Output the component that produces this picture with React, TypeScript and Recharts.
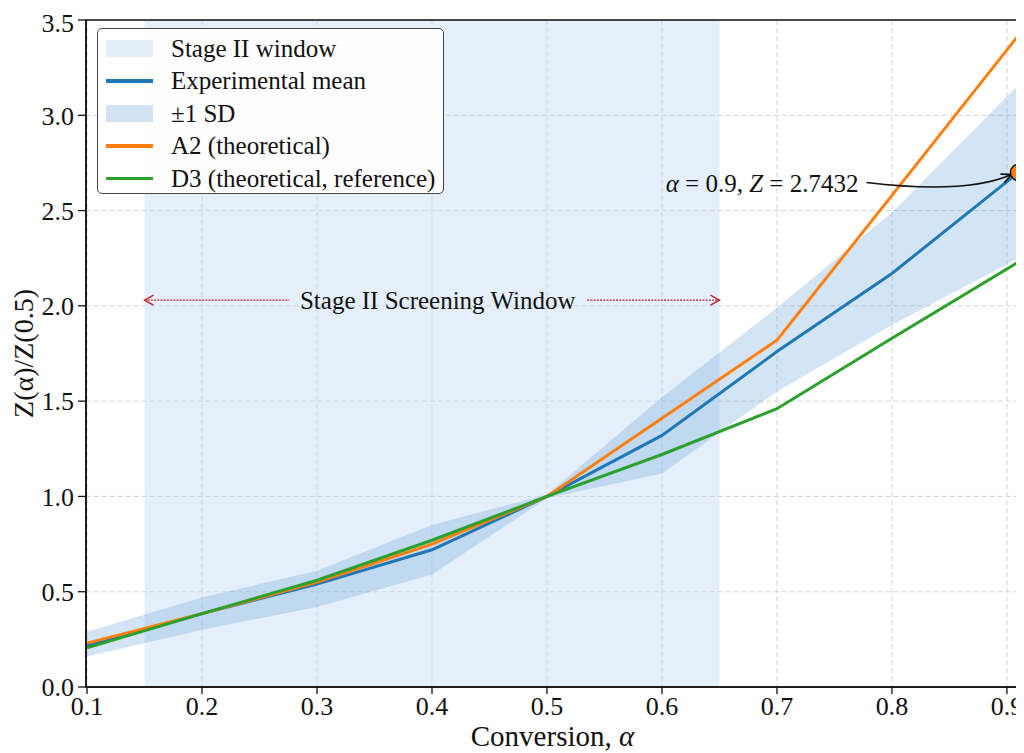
import React from 'react';
import {
  ComposedChart,
  Line,
  Area,
  XAxis,
  YAxis,
  CartesianGrid,
  ReferenceArea,
  ReferenceLine,
  ReferenceDot,
  Legend,
  Label,
} from 'recharts';

// ---------------- data ----------------
const alphaVals = [0.1, 0.2, 0.3, 0.4, 0.5, 0.6, 0.7, 0.8, 0.91];
const meanVals = [0.215, 0.385, 0.54, 0.72, 1.0, 1.32, 1.76, 2.17, 2.7];
const sdLowVals = [0.16, 0.3, 0.42, 0.59, 0.99, 1.12, 1.55, 1.9, 2.25];
const sdHighVals = [0.29, 0.47, 0.61, 0.85, 1.01, 1.52, 1.99, 2.49, 3.16];
const a2Vals = [0.23, 0.385, 0.55, 0.75, 1.0, 1.41, 1.82, 2.58, 3.42];
const d3Vals = [0.205, 0.385, 0.56, 0.77, 1.0, 1.22, 1.46, 1.83, 2.23];

const xTicks = [0.1, 0.2, 0.3, 0.4, 0.5, 0.6, 0.7, 0.8, 0.9];
const yTicks = [0, 0.5, 1.0, 1.5, 2.0, 2.5, 3.0, 3.5];
const xDomain: [number, number] = [0.0991, 0.9105];
const yDomain: [number, number] = [0, 3.5];

const windowStart = 0.15;
const windowEnd = 0.65;
const windowLabel = 'Stage II Screening Window';
const windowLabelX = 0.405;
const windowArrowY = 2.03;
const windowLeftLineEnd = 0.276;
const windowRightLineStart = 0.535;

const annotPoint = { x: 0.91, y: 2.7 };

const legendItems = [
  { label: 'Stage II window', kind: 'patch', color: '#e3eef9' },
  { label: 'Experimental mean', kind: 'line', color: '#1f77b4' },
  { label: '\u00b11 SD', kind: 'patch', color: '#d3e3f3' },
  { label: 'A2 (theoretical)', kind: 'line', color: '#ff7f0e' },
  { label: 'D3 (theoretical, reference)', kind: 'line', color: '#2ca02c' },
];

const data = alphaVals.map((a, i) => ({
  alpha: a,
  mean: meanVals[i],
  sd: [sdLowVals[i], sdHighVals[i]],
  a2: a2Vals[i],
  d3: d3Vals[i],
}));

// ---------------- styles ----------------
const FONT = "'Liberation Serif', 'Times New Roman', 'DejaVu Serif', serif";
const INK = '#111';
const RED = '#b8262a';

const LegendBox = () => (
  <div
    style={{
      boxSizing: 'border-box',
      width: 347,
      height: 166,
      border: '1.3px solid #444',
      borderRadius: 5,
      background: 'rgba(255,255,255,0.94)',
      padding: '3px 0 0 8px',
      fontFamily: FONT,
      fontSize: 25,
      color: INK,
      textAlign: 'left',
    }}
  >
    {legendItems.map((it) => (
      <div key={it.label} style={{ display: 'flex', alignItems: 'center', height: 32.5 }}>
        <div style={{ width: 47, marginRight: 18, display: 'flex', alignItems: 'center' }}>
          {it.kind === 'patch' ? (
            <div style={{ width: 47, height: 17, background: it.color }} />
          ) : (
            <div style={{ width: 47, height: 3.5, background: it.color }} />
          )}
        </div>
        <span style={{ lineHeight: 1, whiteSpace: 'nowrap' }}>{it.label}</span>
      </div>
    ))}
  </div>
);

const AnnotShape = (props: any) => {
  const { cx, cy } = props;
  if (cx == null || cy == null) return null;
  const sx = cx - 152;
  const sy = cy + 10;
  const qx = cx - 52;
  const qy = cy + 22;
  const tx = cx - 7;
  const ty = cy + 2;
  const th = Math.atan2(ty - qy, tx - qx);
  const L = 11;
  const a1 = th + 0.45;
  const a2 = th - 0.45;
  const h1 = `${tx - L * Math.cos(a1)} ${ty - L * Math.sin(a1)}`;
  const h2 = `${tx - L * Math.cos(a2)} ${ty - L * Math.sin(a2)}`;
  return (
    <g>
      <path d={`M ${sx} ${sy} Q ${qx} ${qy} ${tx} ${ty}`} fill="none" stroke={INK} strokeWidth={1.6} />
      <path d={`M ${h1} L ${tx} ${ty} L ${h2}`} fill="none" stroke={INK} strokeWidth={1.6} />
      <circle cx={cx} cy={cy} r={8} fill="#ff7f0e" stroke={INK} strokeWidth={1.5} />
      <text x={cx - 160} y={cy + 20} textAnchor="end" fontFamily={FONT} fontSize={25} fill={INK}>
        <tspan fontStyle="italic">{'\u03b1'}</tspan>
        <tspan>{' = 0.9, '}</tspan>
        <tspan fontStyle="italic">Z</tspan>
        <tspan>{' = 2.7432'}</tspan>
      </text>
    </g>
  );
};

const LeftHead = (props: any) => {
  const { cx, cy } = props;
  if (cx == null) return null;
  return <path d={`M ${cx + 9} ${cy - 5} L ${cx} ${cy} L ${cx + 9} ${cy + 5}`} fill="none" stroke={RED} strokeWidth={1.5} />;
};
const RightHead = (props: any) => {
  const { cx, cy } = props;
  if (cx == null) return null;
  return <path d={`M ${cx - 9} ${cy - 5} L ${cx} ${cy} L ${cx - 9} ${cy + 5}`} fill="none" stroke={RED} strokeWidth={1.5} />;
};
const WindowText = (props: any) => {
  const { cx, cy } = props;
  if (cx == null) return null;
  return (
    <text x={cx} y={cy} textAnchor="middle" dominantBaseline="central" fontFamily={FONT} fontSize={25} fill={INK}>
      {windowLabel}
    </text>
  );
};

const XLabel = (props: any) => {
  const vb = props.viewBox || {};
  return (
    <text x={vb.x + vb.width / 2} y={vb.y + 59} textAnchor="middle" fontFamily={FONT} fontSize={29} fill={INK}>
      <tspan>Conversion, </tspan>
      <tspan fontStyle="italic">{'\u03b1'}</tspan>
    </text>
  );
};
const YLabel = (props: any) => {
  const vb = props.viewBox || {};
  const x = 15;
  const y = vb.y + vb.height / 2;
  return (
    <text x={x} y={y} transform={`rotate(-90 ${x} ${y})`} textAnchor="middle" dominantBaseline="central" fontFamily={FONT} fontSize={28} fill={INK}>
      {'Z(\u03b1)/Z(0.5)'}
    </text>
  );
};

export default function App() {
  return (
    <ComposedChart
      width={1016}
      height={745}
      data={data}
      margin={{ top: 12, right: 5, bottom: 26, left: 8 }}
      style={{ fontFamily: FONT }}
    >
      <CartesianGrid stroke="#d0d0d0" strokeDasharray="5 3" strokeWidth={0.9} />
      <ReferenceArea x1={windowStart} x2={windowEnd} fill="#c5dcf5" fillOpacity={0.45} stroke="none" ifOverflow="visible" />
      <XAxis
        dataKey="alpha"
        type="number"
        domain={xDomain}
        ticks={xTicks}
        allowDataOverflow
        tickFormatter={(v: number) => v.toFixed(1)}
        tick={{ fontSize: 26, fill: INK, fontFamily: FONT }}
        tickLine={{ stroke: INK, strokeWidth: 1.3 }}
        axisLine={{ stroke: INK, strokeWidth: 1.5 }}
        tickSize={7}
        tickMargin={3}
        height={40}
      >
        <Label content={XLabel} />
      </XAxis>
      <YAxis
        type="number"
        domain={yDomain}
        ticks={yTicks}
        allowDataOverflow
        tickFormatter={(v: number) => v.toFixed(1)}
        tick={{ fontSize: 26, fill: INK, fontFamily: FONT }}
        tickLine={{ stroke: INK, strokeWidth: 1.3 }}
        axisLine={{ stroke: INK, strokeWidth: 1.5 }}
        tickSize={8}
        tickMargin={4}
        width={70}
      >
        <Label content={YLabel} />
      </YAxis>
      <Area
        dataKey="sd"
        type="linear"
        stroke="none"
        fill="#5b9bd5"
        fillOpacity={0.27}
        isAnimationActive={false}
        legendType="none"
      />
      <Line dataKey="mean" type="linear" stroke="#1f77b4" strokeWidth={3} dot={false} isAnimationActive={false} />
      <Line dataKey="a2" type="linear" stroke="#ff7f0e" strokeWidth={3} dot={false} isAnimationActive={false} />
      <Line dataKey="d3" type="linear" stroke="#2ca02c" strokeWidth={3} dot={false} isAnimationActive={false} />

      <ReferenceLine
        segment={[{ x: windowStart, y: windowArrowY }, { x: windowLeftLineEnd, y: windowArrowY }]}
        stroke={RED}
        strokeWidth={1.3}
        strokeDasharray="2 1.2"
      />
      <ReferenceLine
        segment={[{ x: windowRightLineStart, y: windowArrowY }, { x: windowEnd, y: windowArrowY }]}
        stroke={RED}
        strokeWidth={1.3}
        strokeDasharray="2 1.2"
      />
      <ReferenceDot x={windowStart} y={windowArrowY} r={1} shape={LeftHead} />
      <ReferenceDot x={windowEnd} y={windowArrowY} r={1} shape={RightHead} />
      <ReferenceDot x={windowLabelX} y={windowArrowY} r={1} shape={WindowText} />

      <ReferenceArea
        x1={xDomain[0]}
        x2={xDomain[1]}
        y1={yDomain[0]}
        y2={yDomain[1]}
        fill="none"
        fillOpacity={0}
        stroke={INK}
        strokeWidth={1.5}
        ifOverflow="visible"
      />
      <ReferenceDot x={annotPoint.x} y={annotPoint.y} r={8} shape={AnnotShape} ifOverflow="visible" />

      <Legend
        layout="vertical"
        align="center"
        verticalAlign="middle"
        content={() => <LegendBox />}
        wrapperStyle={{ position: 'absolute', left: 89, top: 20, width: 347, height: 166 }}
      />
    </ComposedChart>
  );
}
